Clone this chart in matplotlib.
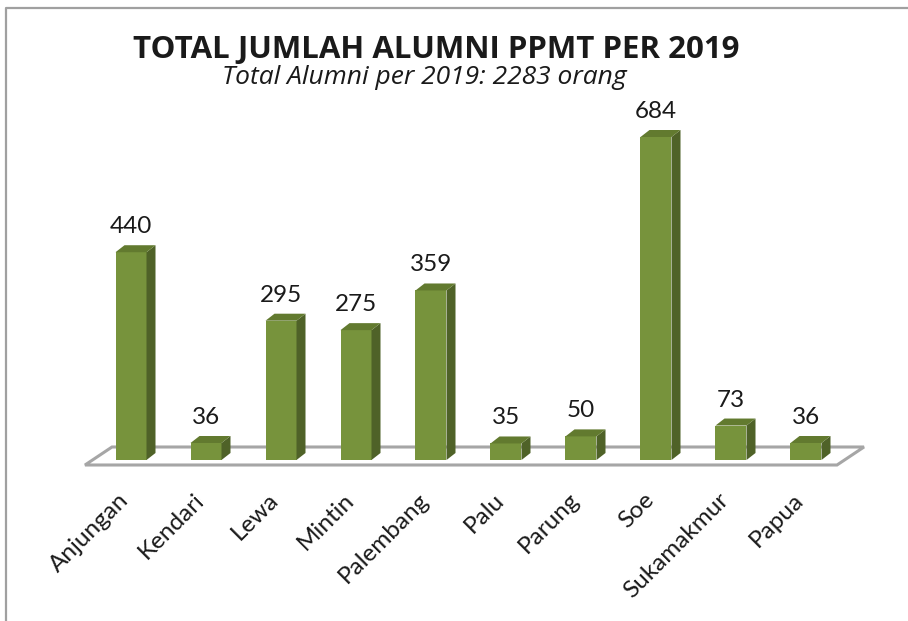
import matplotlib
matplotlib.use("Agg")
import matplotlib.pyplot as plt
from matplotlib.patches import Polygon
from matplotlib.lines import Line2D

plt.rcParams['font.family'] = ['Lato', 'DejaVu Sans']

# data
categories = ['Anjungan', 'Kendari', 'Lewa', 'Mintin', 'Palembang',
              'Palu', 'Parung', 'Soe', 'Sukamakmur', 'Papua']
alumni = [440, 36, 295, 275, 359, 35, 50, 684, 73, 36]

title = 'TOTAL JUMLAH ALUMNI PPMT PER 2019'
subtitle = 'Total Alumni per 2019: 2283 orang'

# colours
front_col = '#77933C'
side_col = '#4F6228'
top_col = '#627A2F'
floor_col = '#A6A6A6'

W, H = 908, 621
fig = plt.figure(figsize=(W / 100, H / 100), dpi=100)

# axes geometry (pixels, y from top)
step_px = 75.0
first_px = 131.0
base_px = 460.0
ymax = 700
px_per_val = 323.0 / 684.0
left_px = first_px - 0.5 * step_px
ax = fig.add_axes([left_px / W, (H - base_px) / H,
                   10 * step_px / W, ymax * px_per_val / H])
ax.set_xlim(-0.5, 9.5)
ax.set_ylim(0, ymax)
ax.axis('off')

def px_x(p):
    return p / step_px

def px_y(p):
    return p / px_per_val

# floor
fl, fr = px_x(85 - first_px), px_x(837 - first_px)
fy = -px_y(5)
fdx, fdy = px_x(27), px_y(18)
floor = Polygon([(fl, fy), (fr, fy), (fr + fdx, fy + fdy), (fl + fdx, fy + fdy)],
                closed=True, facecolor='white', edgecolor=floor_col,
                linewidth=2.2, clip_on=False, zorder=1)
ax.add_patch(floor)

# bars
bw = px_x(31)
ddx, ddy = px_x(9), px_y(7)
for i, v in enumerate(alumni):
    x0, x1 = i - bw / 2, i + bw / 2
    ax.bar(i, v, width=bw, color=front_col, zorder=3)
    side = Polygon([(x1, 0), (x1 + ddx, ddy), (x1 + ddx, v + ddy), (x1, v)],
                   closed=True, facecolor=side_col, edgecolor='none',
                   zorder=3, clip_on=False)
    top = Polygon([(x0, v), (x1, v), (x1 + ddx, v + ddy), (x0 + ddx, v + ddy)],
                  closed=True, facecolor=top_col, edgecolor='none',
                  zorder=3, clip_on=False)
    ax.add_patch(side)
    ax.add_patch(top)
    ax.annotate(str(v), xy=(i, v + ddy), xytext=(0, 12),
                textcoords='offset pixels', ha='center', va='baseline',
                fontsize=17.5, color='#1a1a1a', annotation_clip=False)
    ax.annotate(categories[i], xy=(i, 0), xytext=(-13, -29),
                textcoords='offset pixels', ha='right', va='top',
                rotation=45, rotation_mode='anchor',
                fontsize=17.5, color='#1a1a1a', annotation_clip=False)

# titles
fig.text(436 / W, (H - 58) / H, title, ha='center', va='baseline',
         fontsize=22.5, fontweight='bold', color='#1a1a1a',
         family=['Open Sans', 'DejaVu Sans'])
fig.text(424 / W, (H - 84) / H, subtitle, ha='center', va='baseline',
         fontsize=19, fontstyle='italic', color='#1a1a1a',
         family=['Open Sans', 'DejaVu Sans'])

# chart border (left and top edges visible)
fig.add_artist(Line2D([6 / W, 6 / W, 1.0], [0.0, (H - 8) / H, (H - 8) / H],
                      color='#A0A0A0', linewidth=1.6))

fig.savefig('out.png', dpi=100)
